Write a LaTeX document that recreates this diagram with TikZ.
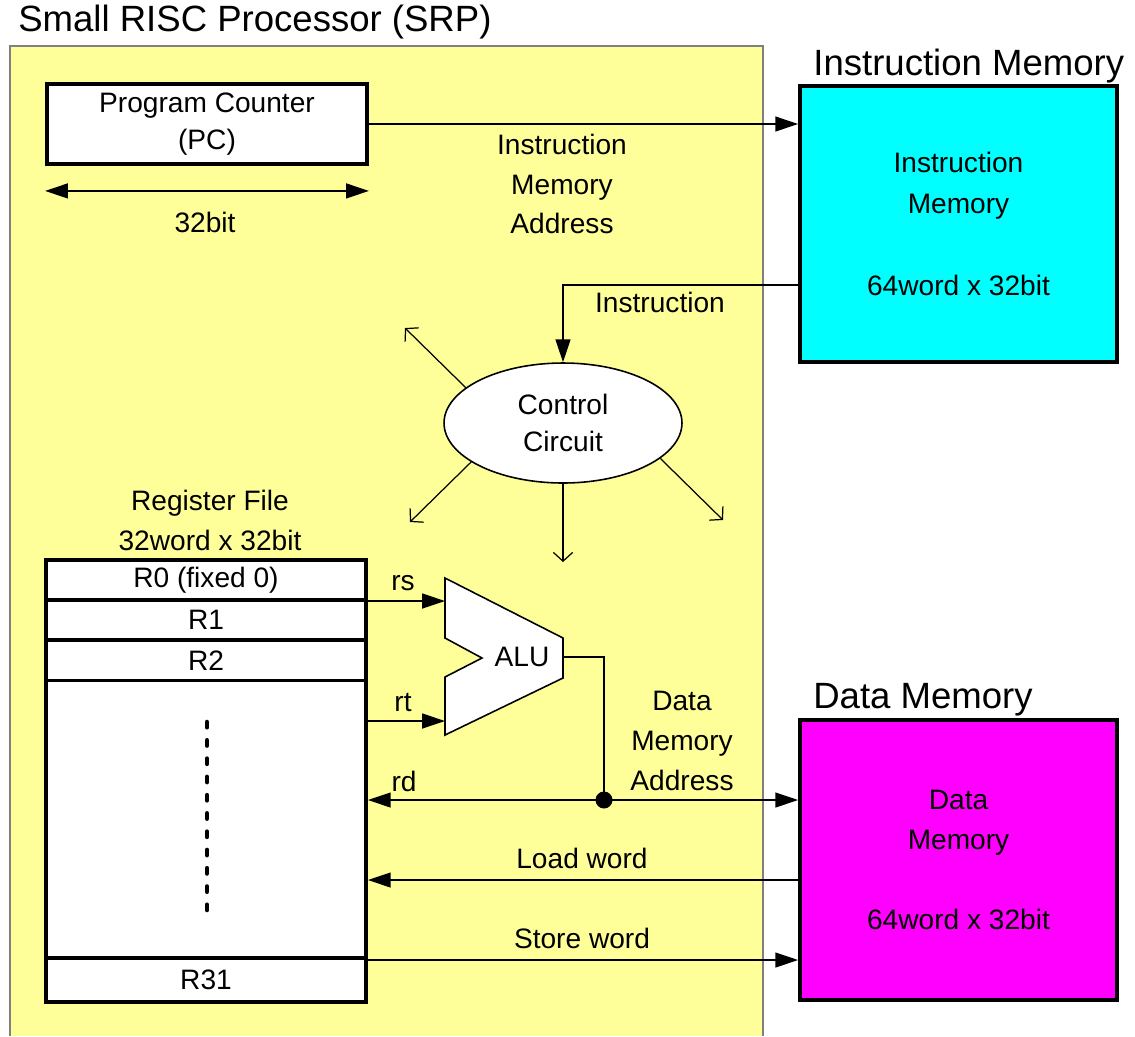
\documentclass[tikz,border=0pt]{standalone}
\usepackage{fontspec}
\setmainfont{Liberation Sans}
\usetikzlibrary{arrows.meta,shapes.geometric}

\definecolor{srpyellow}{HTML}{FFFF99}
\definecolor{imcyan}{RGB}{0,255,255}
\definecolor{dmmagenta}{RGB}{255,0,255}

\begin{document}
\begin{tikzpicture}
  [x=0.02cm, y=-0.02cm,
   every node/.style={font=\fontsize{16}{22.7}\selectfont, align=center, inner sep=0pt},
   reg/.style={draw, line width=2.2pt, fill=white, minimum width=6.4cm},
   mem/.style={draw, line width=2.2pt, minimum width=6.34cm},
   head/.style={font=\fontsize{20.8}{25}\selectfont, anchor=west},
   wire/.style={line width=0.9pt},
   arr/.style={wire, -{Triangle[length=13pt,width=8.5pt]}},
   ctrl/.style={line width=0.7pt, -{Straight Barb[length=5pt,width=11pt]}},
   dots/.style={line width=2.6pt, line cap=round, dash pattern=on 3pt off 7.4pt}]
  \useasboundingbox (0,0) rectangle (1135,1036);
  \fill[srpyellow] (10,46) rectangle (763,1036);
  \draw[gray, line width=0.8pt] (10,1036) -- (10,46) -- (763,46) -- (763,1036);
  \node[head] (srp) at (18,22) {Small RISC Processor (SRP)};

  \node[reg, minimum height=1.6cm, font=\fontsize{16}{21.5}\selectfont] (pc) at (207,124) {Program Counter\\(PC)};
  \draw[wire, {Triangle[length=13pt,width=8.5pt]}-{Triangle[length=13pt,width=8.5pt]}]
    ([yshift=-0.5cm]pc.south west) -- ([yshift=-0.5cm]pc.south east);
  \node (bits) at (205,222) {32bit};

  \node[head] (imt) at (813,66) {Instruction Memory};
  \node[mem, fill=imcyan, minimum height=5.52cm, font=\fontsize{16}{23.2}\selectfont] (im) at (958.5,224)
    {Instruction\\Memory\\~\\64word x 32bit};
  \node[head] (dmt) at (813,700) {Data Memory};
  \node[mem, fill=dmmagenta, minimum height=5.6cm] (dm) at (958.5,860)
    {Data\\Memory\\~\\64word x 32bit};

  \draw[arr] (pc.east) -- (pc.east -| im.west);
  \node (ima) at (562,184) {Instruction\\Memory\\Address};

  \node[ellipse, draw, fill=white, line width=0.9pt, minimum width=4.76cm, minimum height=2.4cm,
        font=\fontsize{16}{21}\selectfont] (ctl) at (563,423) {Control\\Circuit};
  \coordinate (imo) at (800,285);
  \draw[arr] (imo) -| (ctl.north);
  \node (insl) at (660,302) {Instruction};
  \coordinate (c1) at (405,328);
  \coordinate (c2) at (410,522);
  \coordinate (c3) at (563,562);
  \coordinate (c4) at (723,520);
  \draw[ctrl] (ctl.160) -- (c1);
  \draw[ctrl] (ctl.203) -- (c2);
  \draw[ctrl] (ctl.south) -- (c3);
  \draw[ctrl] (ctl.340) -- (c4);

  \node (rf) at (210,520) {Register File\\32word x 32bit};
  \node[reg, minimum height=0.8cm] (r0) at (206,580) {R0 (fixed 0)};
  \node[reg, minimum height=0.8cm] (r1) at (206,620) {R1};
  \node[reg, minimum height=0.82cm] (r2) at (206,660.5) {R2};
  \node[reg, minimum height=5.54cm] (mid) at (206,819) {};
  \node[reg, minimum height=0.88cm] (r31) at (206,980) {R31};
  \draw[dots] (207,722) -- (207,910);

  \draw[wire, fill=white] (445,578) -- (563,638) -- (563,678) -- (445,735) -- (445,677)
    -- (482,658) -- (445,638) -- cycle;
  \node (alu) at (522,657) {ALU};
  \coordinate (alua) at (445,601);
  \coordinate (alub) at (445,721);
  \coordinate (aluo) at (563,657);
  \coordinate (dot) at (604,800);

  \draw[arr] (alua -| mid.east) -- (alua);
  \node (rs) at (403,583) {rs};
  \draw[arr] (alub -| mid.east) -- (alub);
  \node (rt) at (403,703) {rt};
  \draw[wire] (aluo) -| (dot);
  \fill (dot) circle (8.5);
  \draw[arr] (dot) -- (dot -| mid.east);
  \node (rd) at (404,781) {rd};
  \draw[arr] (dot) -- (dot -| dm.west);
  \node (dma) at (682,741) {Data\\Memory\\Address};

  \coordinate (ld) at (800,880);
  \draw[arr] (ld) -- (ld -| mid.east);
  \node (ldl) at (582,858) {Load word};
  \coordinate (st) at (366,960);
  \draw[arr] (st) -- (st -| dm.west);
  \node (stl) at (582,938) {Store word};
\end{tikzpicture}
\end{document}
